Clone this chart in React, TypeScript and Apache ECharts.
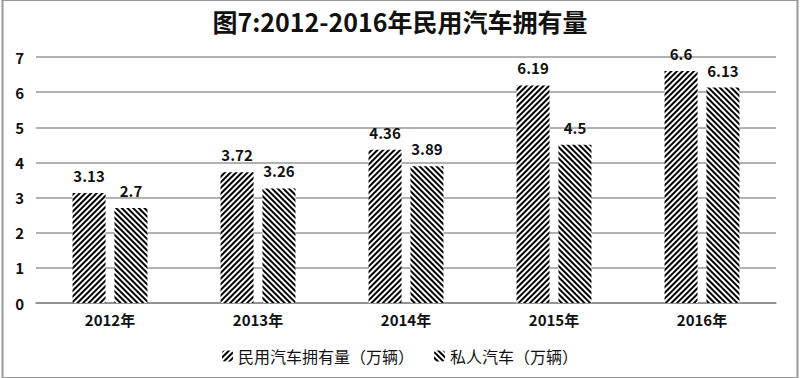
import React, { useEffect, useRef } from "react";
import * as echarts from "echarts";

const categories = ["2012年", "2013年", "2014年", "2015年", "2016年"];
const civilCars = [3.13, 3.72, 4.36, 6.19, 6.6];
const privateCars = [2.7, 3.26, 3.89, 4.5, 6.13];
const seriesNames = ["民用汽车拥有量（万辆）", "私人汽车（万辆）"];
const titleText = "图7:2012-2016年民用汽车拥有量";

const FONT = "'Noto Sans CJK SC', 'Noto Sans', sans-serif";

export default function App() {
  const ref = useRef<HTMLDivElement>(null);
  useEffect(() => {
    if (!ref.current) return;
    const chart = echarts.init(ref.current, null, { renderer: "svg" });
    const hatch = (rot: number) => ({
      symbol: "rect",
      color: "#000",
      dashArrayX: [1, 0],
      dashArrayY: [1.4, 1.3],
      symbolSize: 1,
      rotation: rot,
    });
    const labelStyle = {
      show: true,
      position: "top",
      distance: 10,
      fontFamily: FONT,
      fontSize: 15,
      fontWeight: "bold",
      color: "#111",
    };
    chart.setOption({
      animation: false,
      backgroundColor: "#fff",
      title: {
        text: titleText,
        left: "center",
        top: 3,
        textStyle: { fontFamily: FONT, fontSize: 25, fontWeight: "bold", color: "#111" },
      },
      graphic: [
        {
          type: "rect",
          shape: { x: 2.5, y: 0, width: 795, height: 378 },
          style: { fill: "none", stroke: "#999", lineWidth: 2 },
          silent: true,
        },
      ],
      legend: {
        bottom: 9,
        left: "center",
        itemWidth: 11,
        itemHeight: 11,
        itemGap: 20,
        textStyle: { fontFamily: FONT, fontSize: 16, color: "#111" },
        data: seriesNames,
      },
      grid: { left: 36, right: 24, top: 57, bottom: 75, containLabel: false },
      xAxis: {
        type: "category",
        data: categories,
        axisLine: { lineStyle: { color: "#888", width: 1.5 } },
        axisTick: { show: false },
        axisLabel: { fontFamily: FONT, fontSize: 15, fontWeight: "bold", color: "#111", margin: 9 },
      },
      yAxis: {
        type: "value",
        min: 0,
        max: 7,
        interval: 1,
        axisLine: { show: false },
        axisTick: { show: false },
        splitLine: { lineStyle: { color: "#999", width: 1.5 } },
        axisLabel: { fontFamily: FONT, fontSize: 15, fontWeight: "bold", color: "#111", margin: 12 },
      },
      series: [
        {
          name: seriesNames[0],
          type: "bar",
          data: civilCars,
          barWidth: 33,
          barGap: "27%",
          itemStyle: { color: "#fff", decal: hatch(-Math.PI / 4) },
          label: labelStyle,
        },
        {
          name: seriesNames[1],
          type: "bar",
          data: privateCars,
          barWidth: 33,
          itemStyle: { color: "#fff", decal: hatch(Math.PI / 4) },
          label: labelStyle,
        },
      ],
    });
    return () => chart.dispose();
  }, []);
  return (
    <div
      ref={ref}
      style={{ position: "absolute", left: 0, top: 0, width: 800, height: 378 }}
    />
  );
}
